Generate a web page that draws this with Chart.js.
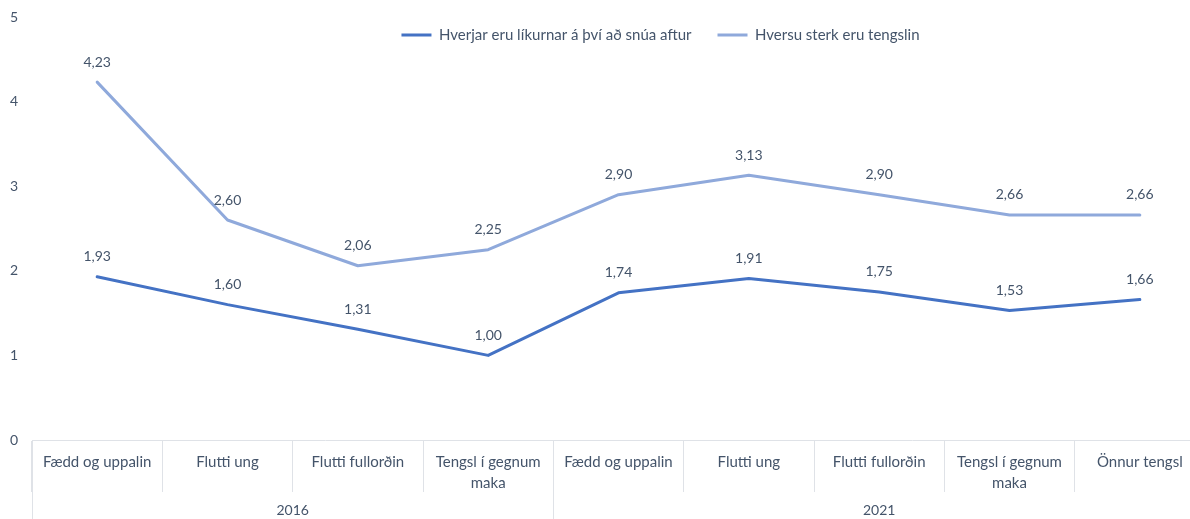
<!DOCTYPE html>
<html>
<head>
<meta charset="utf-8">
<script src="https://cdn.jsdelivr.net/npm/chart.js@4"></script>
<style>
  html, body { margin: 0; padding: 0; background: #fff; overflow: hidden; }
  #wrap { width: 1206px; height: 519px; position: relative; }
</style>
</head>
<body>
<div id="wrap"><canvas id="chart"></canvas></div>
<script>
// gögn
const categories = [
  'Fædd og uppalin', 'Flutti ung', 'Flutti fullorðin', ['Tengsl í gegnum', 'maka'],
  'Fædd og uppalin', 'Flutti ung', 'Flutti fullorðin', ['Tengsl í gegnum', 'maka'], 'Önnur tengsl'
];
const years = ['2016', '2021'];
const yearSizes = [4, 5];
const likur = [1.93, 1.60, 1.31, 1.00, 1.74, 1.91, 1.75, 1.53, 1.66];
const tengsl = [4.23, 2.60, 2.06, 2.25, 2.90, 3.13, 2.90, 2.66, 2.66];
const yTicks = [0, 1, 2, 3, 4, 5];

const textColor = '#44546A';
const lineGray = '#dfe2e7';

function fmt(v) {
  return v.toFixed(2).replace('.', ',');
}

// legend: lítil hæð svo teiknisvæðið byrjar efst
const legendFix = {
  id: 'legendFix',
  beforeLayout(chart) {
    const lg = chart.legend;
    if (lg && !lg._patched) {
      const fit = lg.fit;
      lg.fit = function () { fit.call(this); this.height = 17; };
      lg._patched = true;
    }
  },
  afterLayout(chart) {
    const lg = chart.legend;
    lg.left += 53;
    lg.right += 53;
    lg.top = 1.5;
    lg.bottom = 60;
  }
};

// gildi fyrir ofan punkta
const valueLabels = {
  id: 'valueLabels',
  afterDatasetsDraw(chart) {
    const ctx = chart.ctx;
    ctx.save();
    ctx.font = '14px Lato';
    ctx.fillStyle = textColor;
    ctx.textAlign = 'center';
    ctx.textBaseline = 'middle';
    chart.data.datasets.forEach((ds, i) => {
      chart.getDatasetMeta(i).data.forEach((pt, j) => {
        ctx.fillText(fmt(ds.data[j]), pt.x, pt.y - 20);
      });
    });
    ctx.restore();
  }
};

// ár undir flokkunum
const yearGroups = {
  id: 'yearGroups',
  afterDraw(chart) {
    const ctx = chart.ctx;
    const x = chart.scales.x;
    const step = x.getPixelForValue(1) - x.getPixelForValue(0);
    const top = chart.chartArea.bottom;
    const bottom = chart.height;
    ctx.save();
    ctx.strokeStyle = lineGray;
    ctx.lineWidth = 1;
    ctx.font = '14px Lato';
    ctx.fillStyle = textColor;
    ctx.textAlign = 'center';
    ctx.textBaseline = 'middle';
    let start = 0;
    years.forEach((yr, g) => {
      const end = start + yearSizes[g] - 1;
      const left = x.getPixelForValue(start) - step / 2;
      const right = x.getPixelForValue(end) + step / 2;
      [left, right].forEach(px => {
        const p = Math.round(px) + 0.5;
        ctx.beginPath();
        ctx.moveTo(p, top);
        ctx.lineTo(p, bottom);
        ctx.stroke();
      });
      ctx.fillText(yr, (left + right) / 2, 510);
      start = end + 1;
    });
    ctx.restore();
  }
};

const ctx = document.getElementById('chart').getContext('2d');
const chart = new Chart(ctx, {
  type: 'line',
  data: {
    labels: categories,
    datasets: [
      {
        label: 'Hverjar eru líkurnar á því að snúa aftur',
        data: likur,
        borderColor: '#4472C4',
        backgroundColor: '#4472C4',
        borderWidth: 3,
        pointRadius: 0,
        tension: 0,
        borderCapStyle: 'round',
        borderJoinStyle: 'round'
      },
      {
        label: 'Hversu sterk eru tengslin',
        data: tengsl,
        borderColor: '#8FA9DB',
        backgroundColor: '#8FA9DB',
        borderWidth: 3,
        pointRadius: 0,
        tension: 0,
        borderCapStyle: 'round',
        borderJoinStyle: 'round'
      }
    ]
  },
  options: {
    responsive: true,
    maintainAspectRatio: false,
    animation: false,
    layout: { padding: { top: 0, left: 10, right: 1, bottom: 0 } },
    plugins: {
      legend: {
        position: 'top',
        labels: {
          usePointStyle: true,
          pointStyle: 'line',
          pointStyleWidth: 30,
          padding: 26,
          color: textColor,
          font: { family: 'Lato', size: 15 }
        }
      },
      tooltip: { enabled: false }
    },
    scales: {
      x: {
        offset: true,
        border: { display: true, color: lineGray },
        grid: {
          offset: true,
          drawOnChartArea: false,
          drawTicks: true,
          tickLength: 52,
          color: lineGray
        },
        ticks: {
          color: textColor,
          font: { family: 'Lato', size: 15, lineHeight: 1.45 },
          padding: -41,
          maxRotation: 0,
          autoSkip: false
        },
        afterFit(scale) { scale.height = 79; }
      },
      y: {
        min: yTicks[0],
        max: yTicks[yTicks.length - 1],
        border: { display: false },
        grid: { display: false, drawTicks: false },
        ticks: {
          stepSize: 1,
          color: textColor,
          font: { family: 'Lato', size: 14 },
          padding: 0,
          crossAlign: 'far'
        },
        afterBuildTicks(scale) { scale.ticks = yTicks.map(v => ({ value: v })); },
        afterFit(scale) { scale.width = 22; }
      }
    }
  },
  plugins: [legendFix, valueLabels, yearGroups]
});
</script>
</body>
</html>
